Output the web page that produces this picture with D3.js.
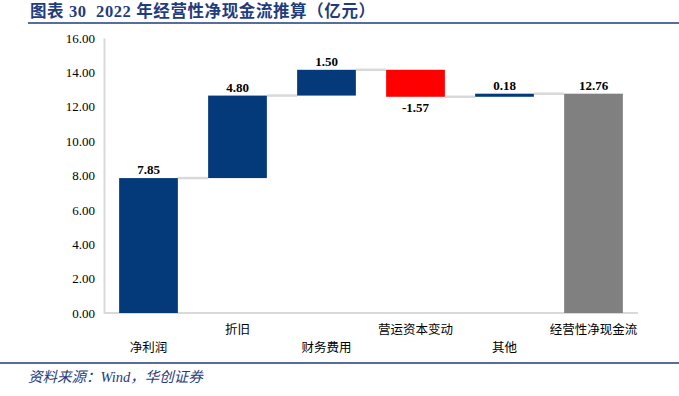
<!DOCTYPE html>
<html>
<head>
<meta charset="utf-8">
<script src="https://cdn.jsdelivr.net/npm/d3@7"></script>
<style>
  body { margin: 0; background: #fff; }
  svg { display: block; }
</style>
</head>
<body>
<div id="chart"></div>
<script>
const w = 679;
const h = 396;

// data
const categories = ["净利润", "折旧", "财务费用", "营运资本变动", "其他", "经营性净现金流"];
const values = [7.85, 4.80, 1.50, -1.57, 0.18, 12.76];
const isTotal = [false, false, false, false, false, true];
const yTicks = [0, 2, 4, 6, 8, 10, 12, 14, 16];

const blue = "#053a7a";
const titleBlue = "#1f3c7e";

// plain hyphen for negatives, like the source
const fmt = (v) => d3.format(".2f")(v).replace("−", "-");

const svg = d3.select("#chart")
    .append("svg")
    .attr("width", w)
    .attr("height", h);

// title
svg.append("text")
    .attr("x", 30)
    .attr("y", 17)
    .attr("fill", titleBlue)
    .style("white-space", "pre")
    .style("letter-spacing", "0.6px")
    .style("font-family", "'Liberation Serif', 'Noto Sans CJK SC', serif")
    .style("font-size", "16.5px")
    .style("font-weight", "bold")
    .text("图表 30  2022 年经营性净现金流推算（亿元）");

svg.append("line")
    .attr("x1", 28).attr("x2", w)
    .attr("y1", 23).attr("y2", 23)
    .attr("stroke", titleBlue)
    .attr("stroke-width", 1.5);

// footer
svg.append("line")
    .attr("x1", 0).attr("x2", w)
    .attr("y1", 363).attr("y2", 363)
    .attr("stroke", titleBlue)
    .attr("stroke-width", 1.5);

svg.append("text")
    .attr("x", 28)
    .attr("y", 382)
    .attr("fill", titleBlue)
    .style("font-family", "'Liberation Serif', 'Noto Sans CJK SC', serif")
    .style("font-size", "14.5px")
    .style("font-style", "italic")
    .text("资料来源：Wind，华创证券");

// scales
const x = d3.scaleBand()
    .domain(categories)
    .range([104, 638])
    .paddingInner(0.34)
    .paddingOuter(0.17);

const y = d3.scaleLinear()
    .domain([0, 16])
    .range([313, 38]);

// waterfall steps
let running = 0;
const steps = categories.map(function(c, i) {
    let start, end;
    if (isTotal[i]) {
        start = 0;
        end = values[i];
    } else {
        start = running;
        end = running + values[i];
    }
    running = end;
    return { cat: c, value: values[i], start: start, end: end, total: isTotal[i] };
});

// y axis
const yAxis = d3.axisLeft(y)
    .tickValues(yTicks)
    .tickSize(0)
    .tickPadding(9)
    .tickFormat(d3.format(".2f"));

const gy = svg.append("g")
    .attr("transform", "translate(104,0)")
    .call(yAxis);
gy.select(".domain").attr("stroke", "#d9d9d9").attr("stroke-width", 2);
gy.selectAll("text")
    .style("font-family", "'Liberation Serif', serif")
    .style("font-size", "13px")
    .attr("fill", "#000");

// baseline
svg.append("line")
    .attr("x1", 104).attr("x2", 638)
    .attr("y1", y(0)).attr("y2", y(0))
    .attr("stroke", "#d9d9d9")
    .attr("stroke-width", 2);

// connectors
const conn = steps.slice(0, steps.length - 1);
svg.selectAll(".connector")
    .data(conn)
    .enter()
    .append("line")
    .attr("class", "connector")
    .attr("x1", (d) => x(d.cat) + x.bandwidth())
    .attr("x2", (d, i) => x(categories[i + 1]))
    .attr("y1", (d) => y(d.end))
    .attr("y2", (d) => y(d.end))
    .attr("stroke", "#d9d9d9")
    .attr("stroke-width", 2.5);

// bars
svg.selectAll(".bar")
    .data(steps)
    .enter()
    .append("rect")
    .attr("class", "bar")
    .attr("x", (d) => x(d.cat))
    .attr("width", x.bandwidth())
    .attr("y", (d) => y(Math.max(d.start, d.end)))
    .attr("height", (d) => Math.max(2, Math.abs(y(d.start) - y(d.end))))
    .attr("fill", (d) => d.total ? "#808080" : (d.value < 0 ? "#ff0000" : blue));

// value labels
svg.selectAll(".vlabel")
    .data(steps)
    .enter()
    .append("text")
    .attr("class", "vlabel")
    .attr("x", (d) => x(d.cat) + x.bandwidth() / 2)
    .attr("y", (d) => d.value < 0 ? y(Math.min(d.start, d.end)) + 15 : y(Math.max(d.start, d.end)) - 4)
    .attr("text-anchor", "middle")
    .style("font-family", "'Liberation Serif', serif")
    .style("font-size", "13px")
    .style("font-weight", "bold")
    .text((d) => fmt(d.value));

// category labels, staggered
svg.selectAll(".clabel")
    .data(categories)
    .enter()
    .append("text")
    .attr("class", "clabel")
    .attr("x", (d) => x(d) + x.bandwidth() / 2)
    .attr("y", (d, i) => i % 2 === 1 ? 334 : 352)
    .attr("text-anchor", "middle")
    .style("font-family", "'Noto Sans CJK SC', sans-serif")
    .style("font-size", "12.5px")
    .text((d) => d);
</script>
</body>
</html>
